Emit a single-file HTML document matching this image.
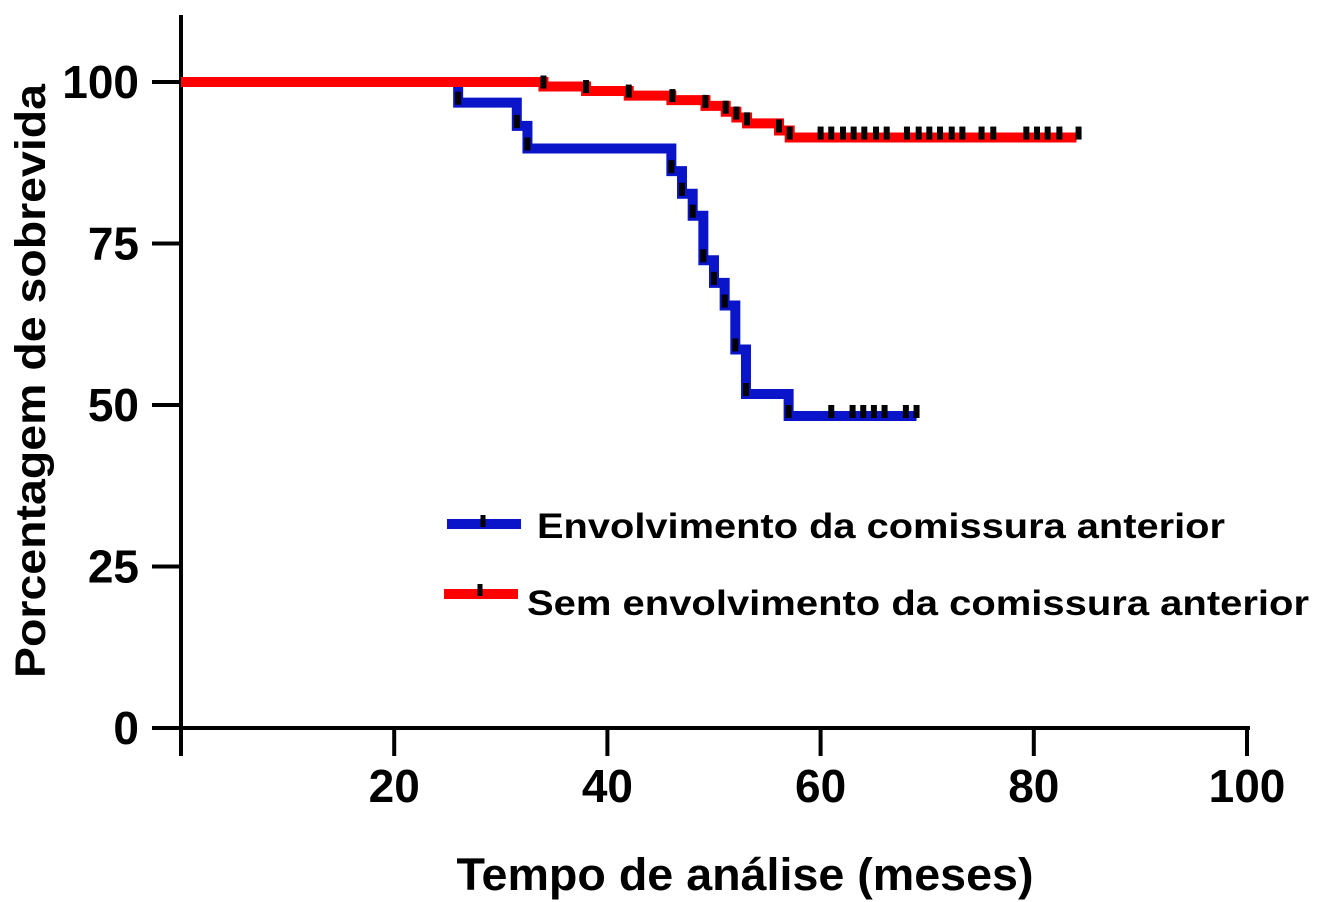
<!DOCTYPE html>
<html><head><meta charset="utf-8"><style>
html,body{margin:0;padding:0;background:#fff;}
svg{display:block;font-family:"Liberation Sans",Arial,sans-serif;font-weight:bold;}
</style></head><body>
<svg id="chart" width="1341" height="902" viewBox="0 0 1341 902">
<g id="axes"></g>
<g id="series"></g>
<g id="legend">
  <g>
    <line x1="447" y1="524" x2="521" y2="524" stroke="#0a14c8" stroke-width="10"/>
    <line x1="483" y1="515" x2="483" y2="527" stroke="#000" stroke-width="5"/>
    <text x="537" y="538" font-size="35" fill="#000" textLength="688" lengthAdjust="spacingAndGlyphs">Envolvimento da comissura anterior</text>
  </g>
  <g>
    <line x1="444" y1="594" x2="518" y2="594" stroke="#f00" stroke-width="10"/>
    <line x1="480" y1="584" x2="480" y2="596" stroke="#000" stroke-width="5"/>
    <text x="527" y="615" font-size="35" fill="#000" textLength="782" lengthAdjust="spacingAndGlyphs">Sem envolvimento da comissura anterior</text>
  </g>
</g>
<text x="745" y="890" font-size="45" text-anchor="middle" textLength="577" lengthAdjust="spacingAndGlyphs">Tempo de análise (meses)</text>
<text transform="translate(45,381) rotate(-90)" font-size="43" text-anchor="middle" textLength="594" lengthAdjust="spacingAndGlyphs">Porcentagem de sobrevida</text>
</svg>
<script>
const xTicks = [20, 40, 60, 80, 100];
const yTicks = [0, 25, 50, 75, 100];
const blueTimes = [0, 26, 31.5, 32.5, 46, 47, 48, 49, 50, 51, 52, 53, 57];
const blueSurv = [100, 96.8, 93.2, 89.7, 86.2, 82.7, 79.3, 72.4, 68.9, 65.4, 58.6, 51.7, 48.3];
const blueEnd = 69;
const blueCensor = [26, 31.5, 32.5, 46, 47, 48, 49, 50, 51, 52, 53, 57, 61, 63, 64, 65, 66, 68, 69];
const redTimes = [0, 34, 38, 42, 46, 49.2, 51.1, 52.1, 53.1, 56.1, 57.1];
const redSurv = [100, 99.3, 98.6, 97.9, 97.2, 96.3, 95.4, 94.5, 93.6, 92.5, 91.4];
const redEnd = 84;
const redCensor = [34, 38, 42, 46.1, 49.2, 51.1, 52.1, 53.1, 56.1, 57.1, 60, 61, 62.1, 63.1, 64.1, 65.2, 66.2, 68.1, 69.2, 70.2, 71.2, 72.3, 73.3, 75.1, 76.2, 79.3, 80.3, 81.3, 82.4, 84.2];

const NS = "http://www.w3.org/2000/svg";
const X0 = 181, X1 = 1247, Y0 = 728, Y1 = 82;
const xs = t => X0 + (X1 - X0) * t / 100;
const ys = s => Y0 - (Y0 - Y1) * s / 100;
function mk(tag, attrs, parent) {
  const e = document.createElementNS(NS, tag);
  for (const k in attrs) e.setAttribute(k, attrs[k]);
  parent.appendChild(e);
  return e;
}
const axes = document.getElementById('axes');
const ya = mk('line', {x1: X0, y1: 15, x2: X0, y2: Y0 + 2, stroke: '#000', 'stroke-width': 4}, axes);


const xa = mk('line', {x1: X0 - 2, y1: Y0, x2: 1250, y2: Y0, stroke: '#000', 'stroke-width': 4}, axes);


mk('line', {x1: X0, y1: Y0, x2: X0, y2: 756, stroke: '#000', 'stroke-width': 4}, axes);
yTicks.forEach(v => {
  mk('line', {x1: 152, y1: ys(v), x2: X0, y2: ys(v), stroke: '#000', 'stroke-width': 4}, axes);
  const t = mk('text', {x: 139, y: ys(v) + 16, 'font-size': 46, 'text-anchor': 'end'}, axes);
  t.textContent = v;
  
  
});
xTicks.forEach(v => {
  mk('line', {x1: xs(v), y1: Y0, x2: xs(v), y2: 756, stroke: '#000', 'stroke-width': 4}, axes);
  const t = mk('text', {x: xs(v), y: 802, 'font-size': 46, 'text-anchor': 'middle'}, axes);
  t.textContent = v;
  
  
});
const series = document.getElementById('series');
function drawCurve(times, surv, end, censor, color, name) {
  const g = mk('g', {}, series);
  
  
  let d = 'M' + xs(times[0]) + ' ' + ys(surv[0]);
  for (let i = 1; i < times.length; i++) {
    d += ' H' + xs(times[i]) + ' V' + ys(surv[i]);
  }
  d += ' H' + xs(end);
  mk('path', {d: d, fill: 'none', stroke: color, 'stroke-width': 10, 'stroke-linejoin': 'miter'}, g);
  censor.forEach(c => {
    let s = surv[0];
    for (let i = 0; i < times.length; i++) if (times[i] <= c) s = surv[i];
    const m = mk('line', {x1: xs(c), y1: ys(s) - 11, x2: xs(c), y2: ys(s) + 2, stroke: '#000', 'stroke-width': 6}, g);
    
    
  });
}
drawCurve(blueTimes, blueSurv, blueEnd, blueCensor, '#0a14c8', 'series-envolvimento');
drawCurve(redTimes, redSurv, redEnd, redCensor, '#ff0000', 'series-sem-envolvimento');
</script>
</body></html>
